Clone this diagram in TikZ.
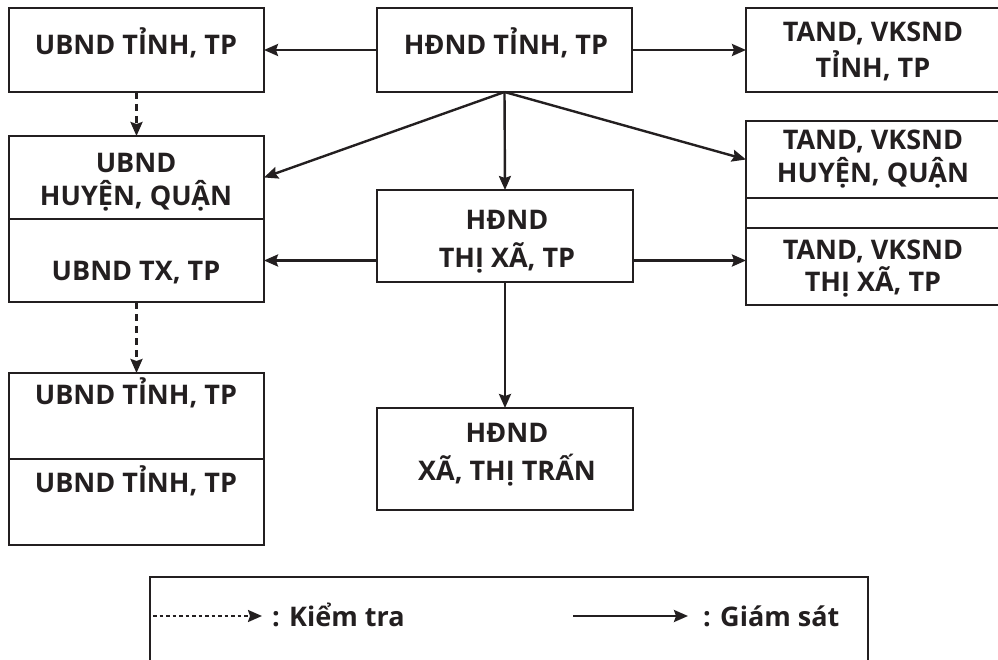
\documentclass[tikz,border=0pt]{standalone}
\usepackage{fontspec}
\setmainfont{Open Sans}
\usetikzlibrary{arrows.meta}
\definecolor{ink}{RGB}{35,31,32}
\begin{document}
\begin{tikzpicture}[x=1pt,y=-1pt,
  box/.style={draw=ink, line width=2.6pt, inner sep=0pt, outer sep=0pt, minimum width=255pt},
  rbox/.style={draw=ink, line width=2.6pt, inner sep=0pt, outer sep=0pt, minimum width=264pt},
  lbl/.style={anchor=base, inner sep=0pt, text=ink, font=\fontsize{27}{32}\selectfont\bfseries},
  conn/.style={draw=ink, line width=2.4pt, -{Stealth[length=14pt,width=12pt,inset=2pt]}},
  chk/.style={conn, dash pattern=on 7pt off 5pt},
  legdot/.style={conn, line width=2.2pt, dash pattern=on 3.5pt off 3pt}]
\clip (0,0) rectangle (998,660);
% boxes
\node[box, minimum height=84pt] (A) at (136.5,50) {};
\node[box, minimum height=84pt] (H1) at (504.5,50) {};
\node[rbox, minimum height=84pt] (R1) at (878,50) {};
\node[box, minimum height=83pt] (Btop) at (136.5,177.5) {};
\node[box, minimum height=83pt] (Bbot) at (136.5,260.5) {};
\node[rbox, minimum height=77pt] (R2top) at (878,159.5) {};
\node[rbox, minimum height=30pt] (R2mid) at (878,213) {};
\node[rbox, minimum height=77pt] (R2bot) at (878,266.5) {};
\node[box, minimum width=256pt, minimum height=92pt] (H2) at (505,236) {};
\node[box, minimum width=256pt, minimum height=102pt] (H3) at (505,459) {};
\node[box, minimum height=86pt] (Ctop) at (136.5,416) {};
\node[box, minimum height=86pt] (Cbot) at (136.5,502) {};
% texts
\node[lbl] (tA) at (136,55) {UBND TỈNH, TP};
\node[lbl] (tH1) at (506,55) {HĐND TỈNH, TP};
\node[lbl] (tR1a) at (873,42) {TAND, VKSND};
\node[lbl] (tR1b) at (873,78) {TỈNH, TP};
\node[lbl] (tBa) at (136,173) {UBND};
\node[lbl] (tBb) at (136,206) {HUYỆN, QUẬN};
\node[lbl] (tBc) at (136,280) {UBND TX, TP};
\node[lbl] (tR2a) at (873,150) {TAND, VKSND};
\node[lbl] (tR2b) at (873,183) {HUYỆN, QUẬN};
\node[lbl] (tR2c) at (873,260) {TAND, VKSND};
\node[lbl] (tR2d) at (873,291) {THỊ XÃ, TP};
\node[lbl] (tH2a) at (507,230) {HĐND};
\node[lbl] (tH2b) at (507,268) {THỊ XÃ, TP};
\node[lbl] (tH3a) at (507,442) {HĐND};
\node[lbl] (tH3b) at (507,480) {XÃ, THỊ TRẤN};
\node[lbl] (tCa) at (136,404) {UBND TỈNH, TP};
\node[lbl] (tCb) at (136,492) {UBND TỈNH, TP};
% connectors
\draw[conn] (H1.west) -- (A.east);
\draw[conn] (H1.east) -- (R1.west);
\draw[chk] (A.south) -- (Btop.north);
\draw[conn] (H1.south) -- (Btop.east);
\draw[conn] (H1.south) -- (H2.north);
\draw[conn] (H1.south) -- (R2top.west);
\draw[conn] (H2.west |- Bbot.east) -- (Bbot.east);
\draw[conn] (H2.east |- Bbot.east) -- (R2bot.west |- Bbot.east);
\draw[chk] (Bbot.south) -- (Ctop.north);
\draw[conn] (H2.south) -- (H3.north);
% legend
\node[box, minimum width=718pt, minimum height=123pt] (L) at (509,638.5) {};
\coordinate (k1) at (153,616);
\coordinate (k2) at (262,616);
\coordinate (g1) at (573,616);
\coordinate (g2) at (688,616);
\draw[legdot] (k1) -- (k2);
\draw[conn] (g1) -- (g2);
\node[lbl, anchor=base west] (tk) at (272,626) {: Kiểm tra};
\node[lbl, anchor=base west] (tg) at (703,626) {: Giám sát};
\end{tikzpicture}
\end{document}
